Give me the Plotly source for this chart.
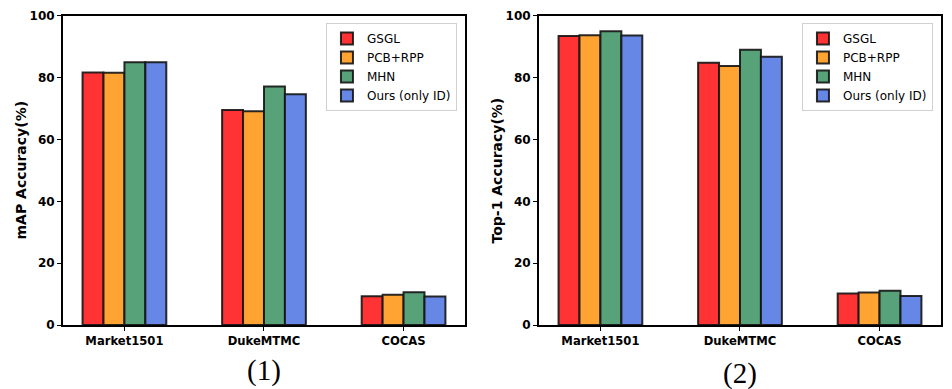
import plotly.graph_objects as go
from plotly.subplots import make_subplots

# Dados
categorias = ["Market1501", "DukeMTMC", "COCAS"]
metodos = ["GSGL", "PCB+RPP", "MHN", "Ours (only ID)"]

map_gsgl = [81.7, 69.6, 9.3]
map_pcb = [81.6, 69.2, 9.8]
map_mhn = [85.0, 77.2, 10.6]
map_ours = [85.0, 74.7, 9.2]

top1_gsgl = [93.5, 84.9, 10.2]
top1_pcb = [93.8, 83.8, 10.5]
top1_mhn = [95.1, 89.1, 11.1]
top1_ours = [93.7, 86.8, 9.4]

cores = ["#ff3333", "#ffa333", "#58a279", "#6787e7"]

FONTE = "DejaVu Sans"

fig = make_subplots(rows=1, cols=2)

# Painel (1) - mAP
for nome, valores, cor in zip(metodos, [map_gsgl, map_pcb, map_mhn, map_ours], cores):
    fig.add_trace(
        go.Bar(
            x=categorias,
            y=valores,
            name=nome,
            marker=dict(color=cor, line=dict(color="rgba(20,20,20,0.9)", width=2)),
            legend="legend",
        ),
        row=1,
        col=1,
    )

# Painel (2) - Top-1
for nome, valores, cor in zip(metodos, [top1_gsgl, top1_pcb, top1_mhn, top1_ours], cores):
    fig.add_trace(
        go.Bar(
            x=categorias,
            y=valores,
            name=nome,
            marker=dict(color=cor, line=dict(color="rgba(20,20,20,0.9)", width=2)),
            legend="legend2",
        ),
        row=1,
        col=2,
    )

eixo_x = dict(
    range=[-0.44, 2.44],
    showline=True,
    linecolor="black",
    linewidth=2,
    mirror=True,
    ticks="outside",
    ticklen=4,
    tickwidth=1,
    tickcolor="black",
    tickfont=dict(family=FONTE, size=11.6, color="black", weight="bold"),
    showgrid=False,
    automargin=False,
)
eixo_y = dict(
    range=[0, 100],
    dtick=20,
    showline=True,
    linecolor="black",
    linewidth=2,
    mirror=True,
    ticks="outside",
    ticklen=4,
    tickwidth=1,
    tickcolor="black",
    tickfont=dict(family=FONTE, size=12, color="black", weight="bold"),
    showgrid=False,
    zeroline=False,
    automargin=False,
)

legenda = dict(
    y=0.941,
    xanchor="right",
    yanchor="top",
    bgcolor="white",
    bordercolor="#d0d0d0",
    borderwidth=1,
    font=dict(family=FONTE, size=12, color="black"),
    tracegroupgap=0,
)

fonte_titulo = dict(family=FONTE, size=14, color="black", weight="bold")
fonte_legenda = dict(family="Liberation Serif", size=29, color="black")

fig.update_layout(
    xaxis=dict(eixo_x, domain=[0.0662, 0.4884]),
    xaxis2=dict(eixo_x, domain=[0.5662, 0.9884]),
    yaxis=dict(eixo_y, domain=[0.1645, 0.9589]),
    yaxis2=dict(eixo_y, domain=[0.1645, 0.9589]),
    barmode="group",
    bargap=0.4,
    bargroupgap=0,
    width=952,
    height=389,
    margin=dict(l=0, r=0, t=0, b=0, autoexpand=False),
    plot_bgcolor="white",
    paper_bgcolor="white",
    legend=dict(legenda, x=0.480),
    legend2=dict(legenda, x=0.980),
    annotations=[
        # Títulos dos eixos y
        dict(text="mAP Accuracy(%)", x=21 / 952, y=0.5617, xref="paper", yref="paper",
             textangle=-90, showarrow=False, xanchor="center", yanchor="middle", font=fonte_titulo),
        dict(text="Top-1 Accuracy(%)", x=497 / 952, y=0.5617, xref="paper", yref="paper",
             textangle=-90, showarrow=False, xanchor="center", yanchor="middle", font=fonte_titulo),
        # Rótulos (1) e (2)
        dict(text="(1)", x=264 / 952, y=1 - 370 / 389, xref="paper", yref="paper",
             xanchor="center", yanchor="middle", showarrow=False, font=fonte_legenda),
        dict(text="(2)", x=740 / 952, y=1 - 373 / 389, xref="paper", yref="paper",
             xanchor="center", yanchor="middle", showarrow=False, font=fonte_legenda),
    ],
)

# Remove a margem padrão do body para a figura ocupar a janela toda
fig.write_html(
    "out.html",
    config={"displayModeBar": False},
    post_script="document.body.style.margin='0';",
)
